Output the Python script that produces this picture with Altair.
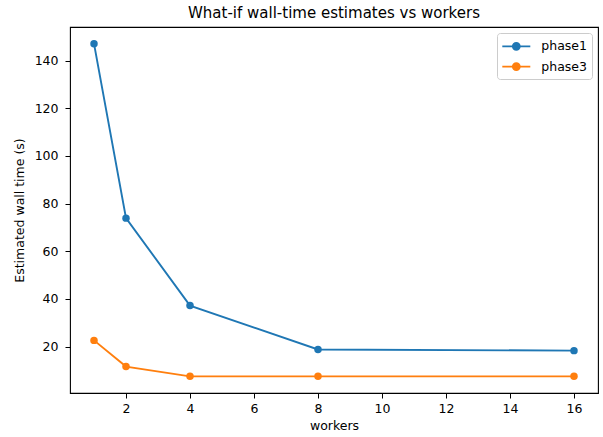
import altair as alt
import pandas as pd

workers = [1, 2, 4, 8, 16]
phase1 = [147.1, 73.9, 37.2, 18.8, 18.3]
phase3 = [22.6, 11.6, 7.5, 7.5, 7.5]
series_names = ["phase1", "phase3"]
series_colors = ["#1f77b4", "#ff7f0e"]
x_ticks = [2, 4, 6, 8, 10, 12, 14, 16]
y_ticks = [20, 40, 60, 80, 100, 120, 140]

rows = []
for w, v in zip(workers, phase1):
    rows.append({"workers": w, "value": v, "series": "phase1"})
for w, v in zip(workers, phase3):
    rows.append({"workers": w, "value": v, "series": "phase3"})
df = pd.DataFrame(rows)

FONT = "DejaVu Sans"

# legend symbol: horizontal line plus filled circle (concentric rings)
cx = 0.75
circ = ""
for r in [0.06, 0.14, 0.22, 0.30, 0.38, 0.44]:
    circ += f" M {cx - r},0 A {r},{r} 0 1,0 {cx + r},0 A {r},{r} 0 1,0 {cx - r},0"
sym_path = "M -1,0 L 2.5,0" + circ

color_scale = alt.Scale(domain=series_names, range=series_colors)

base = alt.Chart(df).encode(
    x=alt.X(
        "workers:Q",
        scale=alt.Scale(domain=[0.25, 16.75], nice=False, zero=False),
        axis=alt.Axis(values=x_ticks, title="workers", grid=False),
    ),
    y=alt.Y(
        "value:Q",
        scale=alt.Scale(domain=[0.52, 154.1], nice=False, zero=False),
        axis=alt.Axis(values=y_ticks, title="Estimated wall time (s)", grid=False),
    ),
    color=alt.Color(
        "series:N",
        scale=color_scale,
        legend=alt.Legend(
            title=None,
            orient="none",
            legendX=427,
            legendY=6,
            symbolType=sym_path,
            symbolSize=256,
            symbolStrokeWidth=1.8,
            labelFont=FONT,
            labelFontSize=12.5,
            labelColor="#000000",
            labelOffset=22,
            padding=4.3,
            rowPadding=3.3,
            fillColor="white",
            strokeColor="#cccccc",
            cornerRadius=3,
        ),
    ),
)

lines = base.mark_line(strokeWidth=1.9)
points = base.mark_point(filled=True, size=56, opacity=1, shape="circle")

chart = (
    (lines + points)
    .properties(
        width=528,
        height=366,
        background="white",
        title=alt.TitleParams(
            "What-if wall-time estimates vs workers",
            font=FONT,
            fontSize=15,
            fontWeight="normal",
            color="#000000",
            anchor="middle",
            baseline="alphabetic",
            offset=-6,
        ),
        autosize=alt.AutoSizeParams(type="none"),
        padding={"left": 70, "top": 27, "right": 5, "bottom": 44},
    )
    .configure_view(stroke="#000000", strokeWidth=1.1)
    .configure_axis(
        domain=False,
        tickColor="#000000",
        tickSize=5,
        tickWidth=1,
        labelFont=FONT,
        labelFontSize=12.5,
        labelColor="#000000",
        titleFont=FONT,
        titleFontSize=12.5,
        titleFontWeight="normal",
        titleColor="#000000",
    )
    .configure_axisX(labelPadding=4, titlePadding=5)
    .configure_axisY(labelPadding=7, titlePadding=8, labelAngle=0)
)

chart.save("out.html", embed_options={"renderer": "svg", "actions": False})
